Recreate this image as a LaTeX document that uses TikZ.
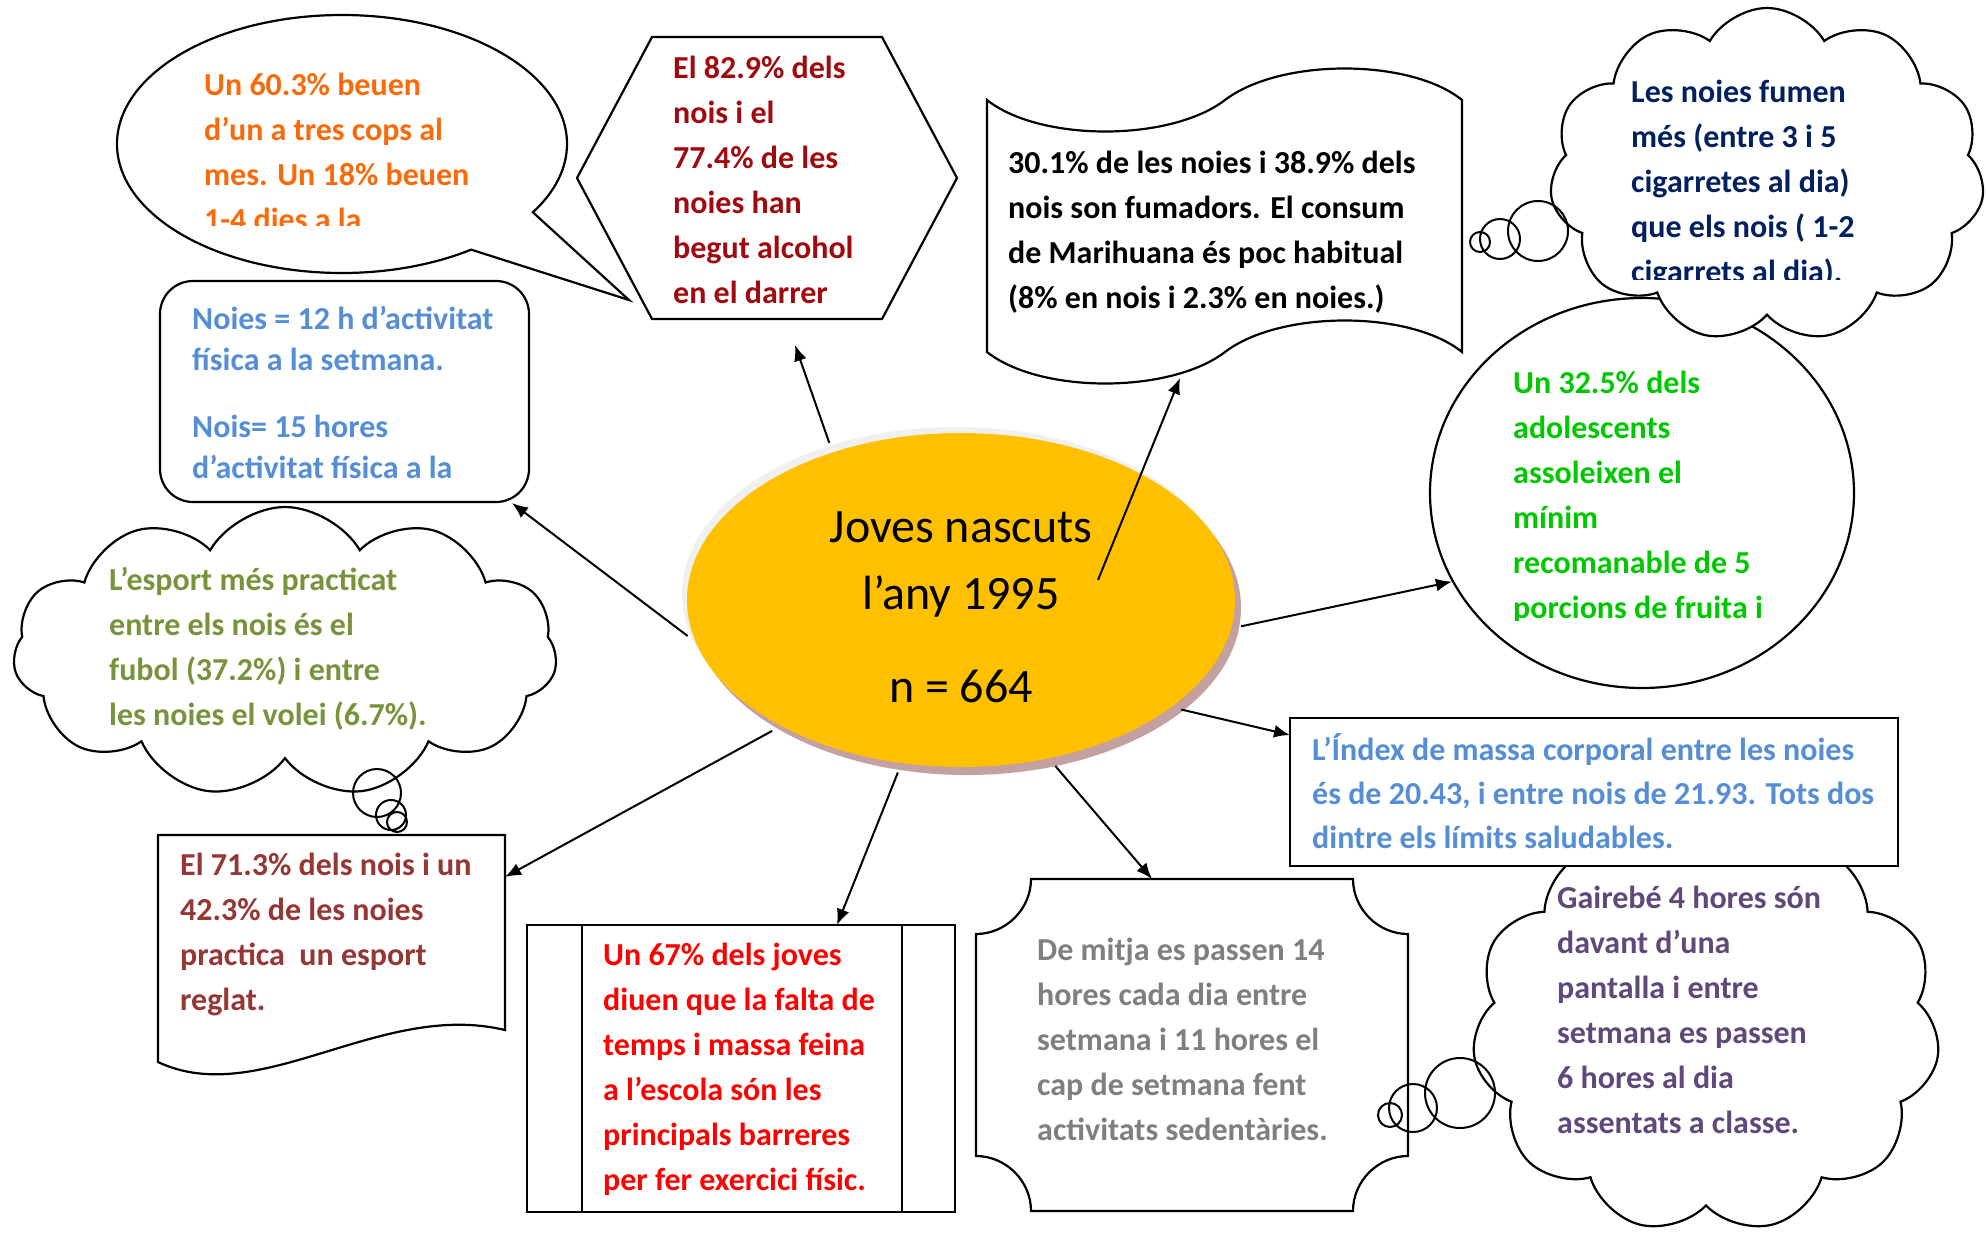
\documentclass[tikz,border=0pt]{standalone}
\usepackage{fontspec}
\setmainfont{Carlito}
\usepackage{tikz}
\usetikzlibrary{arrows.meta, shapes.geometric, shapes.symbols, shapes.callouts}

\definecolor{groc}{HTML}{FFC000}
\definecolor{ombra}{HTML}{C4A0A0}
\definecolor{taronja}{HTML}{FA6A0A}
\definecolor{granat}{HTML}{A00A0F}
\definecolor{blaufosc}{HTML}{002060}
\definecolor{verdviu}{HTML}{00C800}
\definecolor{blauclar}{HTML}{558ED5}
\definecolor{oliva}{HTML}{77933C}
\definecolor{marro}{HTML}{953735}
\definecolor{vermell}{HTML}{FF0000}
\definecolor{gris}{HTML}{7F7F7F}
\definecolor{lila}{HTML}{5F497A}

\begin{document}
\begin{tikzpicture}[x=1pt, y=-1pt, >={Latex[length=16pt,width=13pt]},
    forma/.style={draw, line width=2.2pt, fill=white},
    textbox/.style={anchor=base west, align=left, inner sep=0pt, font=\bfseries\fontsize{32}{45}\selectfont},
    fletxa/.style={->, line width=2pt, shorten <=10pt},
    nuvol/.style={forma, cloud, cloud puffs=11, cloud puff arc=120, cloud ignores aspect, inner sep=0pt},
    bombolla/.style={draw, line width=2pt}]
\useasboundingbox[fill=white] (0,0) rectangle (1986,1234);

% alcohol
\node[forma, ellipse callout, minimum width=450pt, minimum height=258pt,
      callout absolute pointer={(629,300)}, callout pointer arc=23] (beure) at (342,144) {};
\draw[forma] (652,37) -- (882,37) -- (957,178) -- (882,319) -- (652,319) -- (577,178) -- cycle;
\coordinate (alc-in) at (795,345);

% tabac
\draw[forma] (987,100) .. controls (1040,142) and (1170,142) .. (1225,100)
    .. controls (1280,58) and (1410,58) .. (1462,100) -- (1462,352)
    .. controls (1410,310) and (1280,310) .. (1225,352)
    .. controls (1170,394) and (1040,394) .. (987,352) -- cycle;
\coordinate (fum-in) at (1180,378);
\coordinate (fum-out) at (1098,580);

% fruita
\node[forma, ellipse, minimum width=424pt, minimum height=390pt] (fruita) at (1642,493) {};
\node[nuvol, minimum width=435pt, minimum height=334pt] (noies) at (1767,175) {};
\draw[bombolla] (1538,231) circle[radius=30] (1500,239) circle[radius=20] (1480,242) circle[radius=10];

% activitat
\draw[forma, rounded corners=33pt] (160,281) rectangle (529,502);
\coordinate (act-in) at (512,503);
\node[nuvol, minimum width=544pt, minimum height=290pt] (esport) at (285,652) {};
\draw[bombolla] (377,793) circle[radius=24] (391,815) circle[radius=15] (397,822) circle[radius=10];

% joves
\node[ellipse, fill=gray!12, minimum width=548pt, minimum height=334pt] (vora) at (956,594) {};
\node[ellipse, fill=ombra, minimum width=548pt, minimum height=334pt] (ombra) at (967,608) {};
\node[ellipse, fill=groc, minimum width=548pt, minimum height=334pt, align=center,
      font=\fontsize{48}{67}\selectfont] (jove) at (961,600) {\rule{0pt}{46pt}Joves nascuts\\l’any 1995\\[26pt]n = 664};

% esport reglat
\draw[forma] (158,835) -- (505,835) -- (505,1030)
    .. controls (380,1000) and (260,1110) .. (158,1062) -- cycle;
\coordinate (esp-in) at (505,877);

% barreres
\draw[forma] (527,925) rectangle (955,1212);
\draw[line width=2.2pt] (582,925) -- (582,1212) (902,925) -- (902,1212);
\coordinate (barr-in) at (837,925);

% sedentarisme
\draw[forma] (1031,879) -- (1353,879) .. controls (1353,909) and (1378,934) .. (1408,934)
    -- (1408,1156) .. controls (1378,1156) and (1353,1181) .. (1353,1211)
    -- (1031,1211) .. controls (1031,1181) and (1006,1156) .. (976,1156)
    -- (976,934) .. controls (1006,934) and (1031,909) .. (1031,879) -- cycle;
\coordinate (sed-in) at (1152,879);
\node[nuvol, minimum width=468pt, minimum height=410pt] (pantalla) at (1706,1028) {};
\draw[bombolla] (1460,1093) circle[radius=35] (1413,1108) circle[radius=24] (1390,1115) circle[radius=12];

% imc
\draw[forma] (1290,718) rectangle (1898,866);
\coordinate (imc-in) at (1290,735);

% texts (placed at the baseline of their last line)
\begin{scope}
  \clip (180,0) rectangle (580,225);
  \node[textbox, text=taronja] (t-beure) at (204,230) {Un 60.3\% beuen\\d’un a tres cops al\\mes. Un 18\% beuen\\1-4 dies a la};
\end{scope}
\node[textbox, text=granat] (t-alcohol) at (673,303) {El 82.9\% dels\\nois i el\\77.4\% de les\\noies han\\begut alcohol\\en el darrer};
\node[textbox] (t-tabac) at (1008,308) {30.1\% de les noies i 38.9\% dels\\nois son fumadors. El consum\\de Marihuana és poc habitual\\(8\% en nois i 2.3\% en noies.)};
\begin{scope}
  \clip (1600,60) rectangle (1960,279);
  \node[textbox, text=blaufosc] (t-noies) at (1631,282) {Les noies fumen\\més (entre 3 i 5\\cigarretes al dia)\\que els nois ( 1-2\\cigarrets al dia).};
\end{scope}
\begin{scope}
  \clip (1480,340) rectangle (1850,620);
  \node[textbox, text=verdviu] (t-fruita) at (1513,618) {Un 32.5\% dels\\adolescents\\assoleixen el\\mínim\\recomanable de 5\\porcions de fruita i};
\end{scope}
\node[textbox, text=blauclar, font=\bfseries\fontsize{32}{41}\selectfont] (t-activitat) at (192,478) {Noies = 12 h d’activitat\\física a la setmana.\\[26pt]Nois= 15 hores\\d’activitat física a la};
\node[textbox, text=oliva] (t-esport) at (109,725) {L’esport més practicat\\entre els nois és el\\fubol (37.2\%) i entre\\les noies el volei (6.7\%).};
\node[textbox, text=marro] (t-reglat) at (180,1010) {El 71.3\% dels nois i un\\42.3\% de les noies\\practica\ \ un esport\\reglat.};
\node[textbox, text=vermell] (t-barreres) at (603,1190) {Un 67\% dels joves\\diuen que la falta de\\temps i massa feina\\a l’escola són les\\principals barreres\\per fer exercici físic.};
\node[textbox, text=gris] (t-sedentari) at (1037,1140) {De mitja es passen 14\\hores cada dia entre\\setmana i 11 hores el\\cap de setmana fent\\activitats sedentàries.};
\node[textbox, text=blauclar, font=\bfseries\fontsize{32}{44}\selectfont] (t-imc) at (1312,848) {L’Índex de massa corporal entre les noies\\és de 20.43, i entre nois de 21.93. Tots dos\\dintre els límits saludables.};
\node[textbox, text=lila] (t-pantalla) at (1557,1133) {Gairebé 4 hores són\\davant d’una\\pantalla i entre\\setmana es passen\\6 hores al dia\\assentats a classe.};

% fletxes
\draw[fletxa] (jove.131) -- (alc-in);
\draw[fletxa, shorten <=0pt] (fum-out) -- (fum-in);
\draw[fletxa] (jove.-6) -- (fruita.205);
\draw[fletxa] (jove.-27) -- (imc-in);
\draw[fletxa] (jove.-61) -- (sed-in);
\draw[fletxa] (jove.-110) -- (barr-in);
\draw[fletxa] (jove.-145) -- (esp-in);
\draw[fletxa] (jove.-171) -- (act-in);
\end{tikzpicture}
\end{document}
